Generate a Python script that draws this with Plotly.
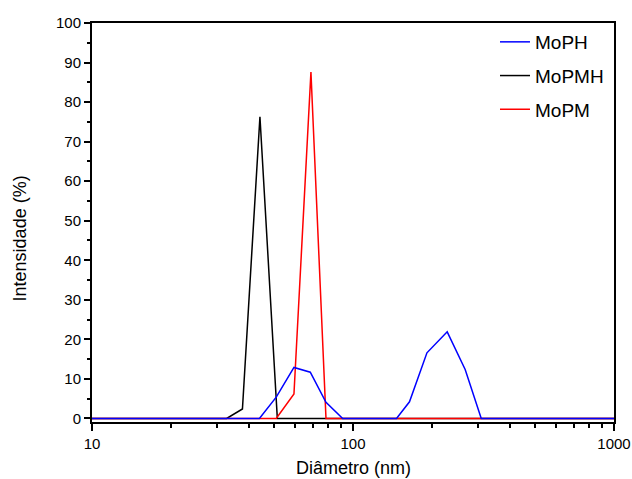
import plotly.graph_objects as go

# Data (diameter in nm, intensity in %)
mopmh_d = [10, 32.8, 37.7, 44.0, 51.3, 1000]
mopmh_i = [0, 0, 2.4, 76.3, 0, 0]

mopm_d = [10, 50.8, 59.4, 69.0, 78.8, 1000]
mopm_i = [0, 0, 6.2, 87.6, 0, 0]

moph_d = [10, 43.8, 50.8, 59.4, 68.6, 78.8, 91.3, 146.8, 164.6, 192.0, 229.6, 269.0, 310.0, 1000]
moph_i = [0, 0, 5.4, 12.9, 11.7, 4.1, 0, 0, 4.2, 16.6, 21.9, 12.4, 0, 0]

x_major = [10, 100, 1000]
x_major_labels = ["10", "100", "1000"]
x_minor = [m * 10 ** k for k in (1, 2) for m in range(2, 10)]

FONT = "Liberation Sans, Arial, sans-serif"

fig = go.Figure()
fig.add_trace(go.Scatter(x=mopmh_d, y=mopmh_i, mode="lines", name="MoPMH",
                         line=dict(color="#000000", width=1.5), legendrank=2,
                         legendgroup="b"))
fig.add_trace(go.Scatter(x=mopm_d, y=mopm_i, mode="lines", name="MoPM",
                         line=dict(color="#ff0000", width=1.5), legendrank=3,
                         legendgroup="c"))
fig.add_trace(go.Scatter(x=moph_d, y=moph_i, mode="lines", name="MoPH",
                         line=dict(color="#0000ff", width=1.5), legendrank=1,
                         legendgroup="a"))

fig.update_layout(
    width=632, height=479,
    margin=dict(l=92, r=18, t=23, b=57, autoexpand=False),
    paper_bgcolor="white", plot_bgcolor="white",
    font=dict(family=FONT, color="black", size=15),
    showlegend=True,
    legend=dict(x=0.772, y=1.0, xanchor="left", yanchor="top",
                bgcolor="rgba(0,0,0,0)", font=dict(size=19, family=FONT),
                tracegroupgap=6),
    annotations=[
        dict(text="Diâmetro (nm)", xref="paper", yref="paper", x=0.5, y=-0.115,
             xanchor="center", yanchor="middle", showarrow=False,
             font=dict(size=18, family=FONT)),
        dict(text="Intensidade (%)", xref="paper", yref="paper", x=-0.138, y=0.46,
             xanchor="center", yanchor="middle", showarrow=False, textangle=-90,
             font=dict(size=18, family=FONT)),
    ],
)

fig.update_xaxes(
    type="log", range=[1, 3], automargin=False,
    tickvals=x_major, ticktext=x_major_labels,
    ticks="outside", ticklen=7, tickwidth=1.5, tickcolor="black",
    minor=dict(tickvals=x_minor, ticks="outside", ticklen=4, tickwidth=1.5,
               tickcolor="black", showgrid=False),
    showline=True, linewidth=2, linecolor="black", mirror=True,
    showgrid=False, zeroline=False,
    tickfont=dict(size=15, family=FONT),
)
fig.update_yaxes(
    range=[-0.9, 100], automargin=False,
    tick0=0, dtick=10,
    ticks="outside", ticklen=6, tickwidth=1.5, tickcolor="black",
    minor=dict(dtick=5, ticks="outside", ticklen=3, tickwidth=1.5,
               tickcolor="black", showgrid=False),
    showline=True, linewidth=2, linecolor="black", mirror=True,
    showgrid=False, zeroline=False,
    tickfont=dict(size=15, family=FONT),
)

fig.write_html("out.html")
